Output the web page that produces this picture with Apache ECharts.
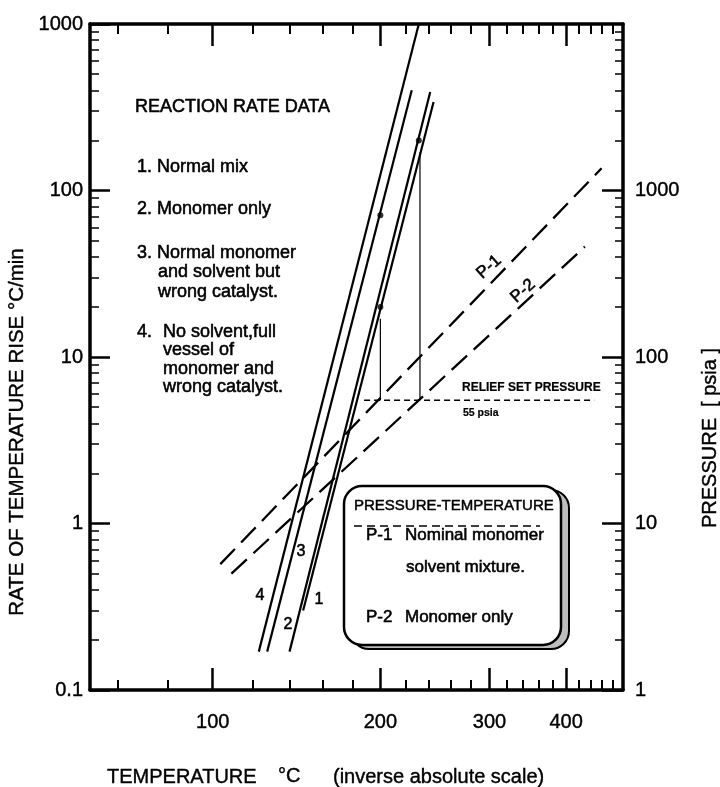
<!DOCTYPE html>
<html><head><meta charset="utf-8">
<script src="https://cdn.jsdelivr.net/npm/echarts@6/dist/echarts.min.js"></script>
<style>html,body{margin:0;padding:0;background:#fff}#c{width:720px;height:787px}</style>
</head><body><div id="c"></div>
<script>
// ---------- data ----------
const tempMin = 50, tempMax = 500;                 // °C, inverse absolute scale
const tempMajor = [100, 200, 300, 400];
const tempMinor = [60, 80, 120, 140, 160, 180, 220, 240, 260, 280, 320, 340, 360, 380, 420, 440, 460, 480];
const rateMin = 0.1, rateMax = 1000;               // °C/min (log)
const rateLabels = [0.1, 1, 10, 100, 1000];
const pressMin = 1, pressMax = 10000;              // psia (log)
const pressLabels = [1, 10, 100, 1000];
const minorMantissa = [2, 3, 4, 5, 6, 7, 8, 9];

// reaction-rate lines (temperature °C, rate °C/min)
const line1Temp = [148, 244],   line1Rate = [0.30, 340];
const line2Temp = [140, 241],   line2Rate = [0.17, 390];
const line3Temp = [127.5, 225], line3Rate = [0.17, 400];
const line4Temp = [123, 231],   line4Rate = [0.17, 1000];
const dotTemp = [200, 200, 231], dotRate = [71, 20, 200];
const vert1Temp = [200, 200], vert1Rate = [17, 5.5];
const vert2Temp = [232, 232], vert2Rate = [170, 5.5];

// pressure-temperature lines (temperature °C, pressure psia)
const p1Temp = [103.6, 459], p1Press = [5.7, 1360];
const p2Temp = [109, 430],   p2Press = [5.0, 460];
const reliefTemp = [188, 446], reliefPress = [55, 55];

// ---------- helpers ----------
const tx = t => -1000 / (t + 273);
const lg = v => Math.log10(v);
const seg = (ts, vs) => ts.map((t, i) => [tx(t), lg(vs[i])]);
const FONT = "'Liberation Sans', Arial, Helvetica, sans-serif";

const minorOf = (lo, hi) => {
  const out = [];
  for (let d = Math.floor(lg(lo)); d < Math.round(lg(hi)); d++) minorMantissa.forEach(m => out.push(lg(m * Math.pow(10, d))));
  return out;
};
const fmtFrom = labels => v => {
  for (const l of labels) if (Math.abs(lg(l) - v) < 1e-6) return String(l);
  return '';
};

const xBase = (pos) => ({
  type: 'value', position: pos, min: tx(tempMin), max: tx(tempMax),
  splitLine: { show: false }, axisLine: { show: false, onZero: false }, axisLabel: { show: false }
});
const yBase = (pos, lo, hi) => ({
  type: 'value', position: pos, min: lg(lo), max: lg(hi),
  splitLine: { show: false }, axisLine: { show: false, onZero: false }, axisLabel: { show: false }
});
const frameLine = { show: true, onZero: false, lineStyle: { color: '#000', width: 3.5 } };
const labelInk = { color: '#000', fontFamily: FONT, fontSize: 20, textBorderColor: '#000', textBorderWidth: 0.4 };

const xAxis = [
  Object.assign(xBase('bottom'), {
    axisLine: frameLine,
    axisTick: { show: true, inside: true, length: 22, lineStyle: { color: '#000', width: 2.5 }, customValues: tempMajor.map(tx) },
    axisLabel: Object.assign({ show: true, customValues: tempMajor.map(tx), formatter: v => String(Math.round(-1000 / v - 273)),
      margin: 22 }, labelInk)
  }),
  Object.assign(xBase('bottom'), {
    axisTick: { show: true, inside: true, length: 10, lineStyle: { color: '#000', width: 2 }, customValues: tempMinor.map(tx) }
  }),
  Object.assign(xBase('top'), {
    axisLine: frameLine,
    axisTick: { show: true, inside: true, length: 22, lineStyle: { color: '#000', width: 2.5 }, customValues: tempMajor.map(tx) }
  }),
  Object.assign(xBase('top'), {
    axisTick: { show: true, inside: true, length: 10, lineStyle: { color: '#000', width: 2 }, customValues: tempMinor.map(tx) }
  })
];

const yAxis = [
  Object.assign(yBase('left', rateMin, rateMax), {
    axisLine: frameLine,
    axisTick: { show: true, inside: true, length: 20, lineStyle: { color: '#000', width: 2.5 }, customValues: rateLabels.map(lg) },
    axisLabel: Object.assign({ show: true, customValues: rateLabels.map(lg), formatter: fmtFrom(rateLabels), margin: 7,
      padding: [0, 0, 7, 0] }, labelInk)
  }),
  Object.assign(yBase('left', rateMin, rateMax), {
    axisTick: { show: true, inside: true, length: 9, lineStyle: { color: '#000', width: 1.5 }, customValues: minorOf(rateMin, rateMax) }
  }),
  Object.assign(yBase('right', pressMin, pressMax), {
    axisLine: frameLine,
    axisTick: { show: true, inside: true, length: 21, lineStyle: { color: '#000', width: 2.5 }, customValues: pressLabels.map(lg) },
    axisLabel: Object.assign({ show: true, customValues: pressLabels.map(lg), formatter: fmtFrom(pressLabels), margin: 12,
      padding: [0, 0, 7, 0] }, labelInk)
  }),
  Object.assign(yBase('right', pressMin, pressMax), {
    axisTick: { show: true, inside: true, length: 8, lineStyle: { color: '#000', width: 1.5 }, customValues: minorOf(pressMin, pressMax) }
  })
];

const solid = (data, yi, w) => ({ type: 'line', xAxisIndex: 0, yAxisIndex: yi, data, symbol: 'none', silent: true,
  lineStyle: { color: '#000', width: w } });
const dashed = (data, yi, w, dash) => ({ type: 'line', xAxisIndex: 0, yAxisIndex: yi, data, symbol: 'none', silent: true,
  lineStyle: { color: '#000', width: w, type: dash } });

const series = [
  solid(seg(line1Temp, line1Rate), 0, 2.2),
  solid(seg(line2Temp, line2Rate), 0, 2.2),
  solid(seg(line3Temp, line3Rate), 0, 2.2),
  solid(seg(line4Temp, line4Rate), 0, 2.2),
  solid(seg(vert1Temp, vert1Rate), 0, 1.2),
  solid(seg(vert2Temp, vert2Rate), 0, 1.2),
  { type: 'scatter', xAxisIndex: 0, yAxisIndex: 0, data: seg(dotTemp, dotRate), symbolSize: 6, silent: true,
    itemStyle: { color: '#000' } },
  dashed(seg(p1Temp, p1Press), 2, 2.3, [21, 9]),
  dashed(seg(p2Temp, p2Press), 2, 2.3, [21, 9]),
  dashed(seg(reliefTemp, reliefPress), 2, 1.5, [6, 4])
];

// ---------- annotations ----------
const txt = (text, x, y, size, opts) => Object.assign({
  type: 'text', x, y, z: 100, silent: true,
  style: Object.assign({ text, x: 0, y: 0, fill: '#000', stroke: '#000', lineWidth: (opts && opts.ink) || 0.55,
    font: `${(opts && opts.weight) || 'normal'} ${size}px ${FONT}`,
    align: 'left', verticalAlign: 'middle', textAlign: 'left', textVerticalAlign: 'middle' }, (opts && opts.style) || {})
}, (opts && opts.el) || {});
const ctr = { style: { align: 'center', textAlign: 'center' } };

const graphic = [
  txt('REACTION RATE DATA', 135, 107, 18),
  txt('1. Normal mix', 137, 167, 18),
  txt('2. Monomer only', 137, 209, 18),
  txt('3. Normal monomer', 137, 253, 18),
  txt('and solvent but', 158, 272, 18),
  txt('wrong catalyst.', 158, 292, 18),
  txt('4.', 137, 332, 18),
  txt('No solvent,full', 163, 332, 18),
  txt('vessel of', 163, 350, 18),
  txt('monomer and', 163, 369, 18),
  txt('wrong catalyst.', 163, 387, 18),
  txt('RELIEF SET PRESSURE', 462, 388, 12, { weight: 'bold', ink: 0.2 }),
  txt('55 psia', 463, 413, 10.5, { weight: 'bold', ink: 0.2 }),
  txt('1', 319, 600, 16, ctr),
  txt('2', 288, 625, 16, ctr),
  txt('3', 301, 552, 16, ctr),
  txt('4', 260, 596, 16, ctr),
  txt('P-1', 489, 267, 17, { style: { align: 'center', textAlign: 'center' }, el: { rotation: 42 * Math.PI / 180 } }),
  txt('P-2', 523, 291, 17, { style: { align: 'center', textAlign: 'center' }, el: { rotation: 42 * Math.PI / 180 } }),
  // legend box (shadow + box)
  { type: 'rect', z: 90, silent: true, shape: { x: 351, y: 490, width: 218, height: 159, r: 18 },
    style: { fill: '#bdbdbd', stroke: '#000', lineWidth: 2 } },
  { type: 'rect', z: 91, silent: true, shape: { x: 344, y: 486, width: 217, height: 159, r: 18 },
    style: { fill: '#fff', stroke: '#000', lineWidth: 2.5 } },
  txt('PRESSURE-TEMPERATURE', 354, 506, 15, { ink: 0.45 }),
  { type: 'line', z: 100, silent: true, shape: { x1: 354, y1: 526, x2: 540, y2: 526 },
    style: { stroke: '#000', lineWidth: 1.5, lineDash: [8, 5] } },
  txt('P-1', 366, 535, 17),
  txt('Nominal monomer', 405, 535, 17),
  txt('solvent mixture.', 406, 567, 17),
  txt('P-2', 366, 617, 17),
  txt('Monomer only', 405, 617, 17),
  // axis titles
  txt('TEMPERATURE', 107, 777, 20, { ink: 0.4 }),
  txt('°C', 278, 776, 20, { ink: 0.4 }),
  txt('(inverse absolute scale)', 333, 777, 20, { ink: 0.4 }),
  txt('RATE OF TEMPERATURE RISE °C/min', 17, 432, 20.5, { ink: 0.4, style: { align: 'center', textAlign: 'center' }, el: { rotation: Math.PI / 2 } }),
  txt('PRESSURE  [ psia ]', 710, 438, 20, { ink: 0.4, style: { align: 'center', textAlign: 'center' }, el: { rotation: Math.PI / 2 } })
];

const chart = echarts.init(document.getElementById('c'), null, { renderer: 'canvas' });
chart.setOption({
  animation: false,
  backgroundColor: '#fff',
  grid: { left: 90, top: 24, right: 97, bottom: 97, containLabel: false },
  xAxis, yAxis, series, graphic
});
</script>
</body></html>
